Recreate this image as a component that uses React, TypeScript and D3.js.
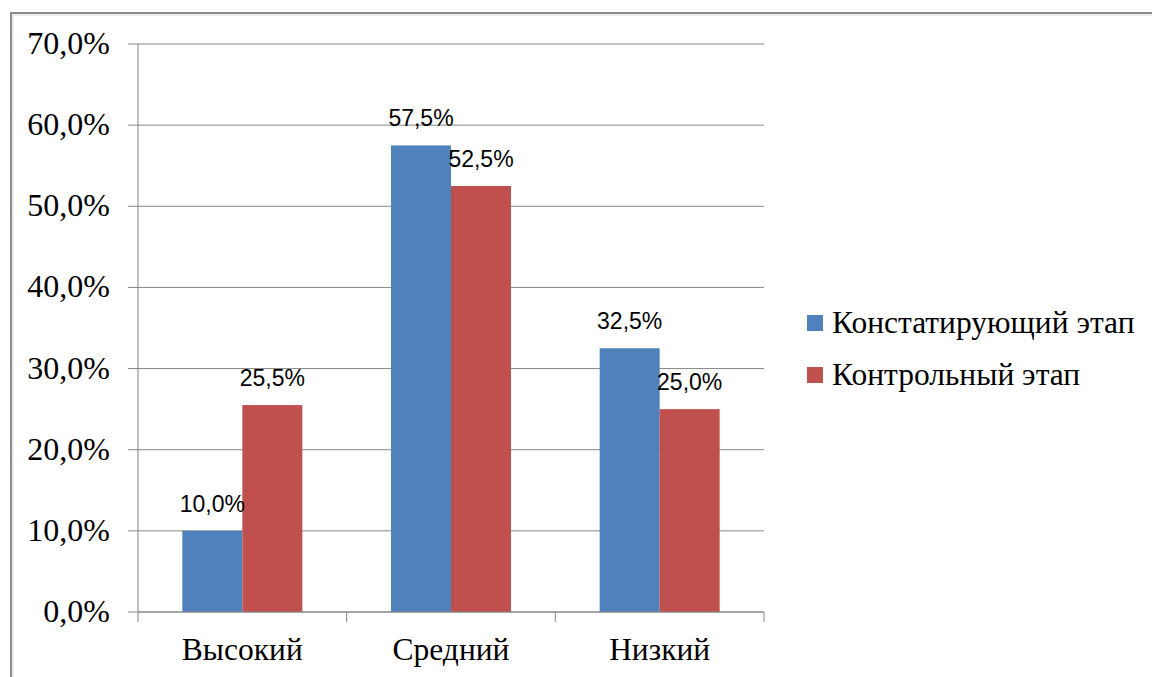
import React from 'react';
import * as d3 from 'd3';

// chart data
const categories = ['Высокий', 'Средний', 'Низкий'];
const seriesNames = ['Констатирующий этап', 'Контрольный этап'];
const stageOne = [10.0, 57.5, 32.5];
const stageTwo = [25.5, 52.5, 25.0];
const yTicks = [0, 10, 20, 30, 40, 50, 60, 70];

const colors = ['#4F81BD', '#C0504D'];
const serif = '"Liberation Serif", "Times New Roman", serif';
const sans = '"Liberation Sans", Arial, sans-serif';

const fmt = (v: number) => v.toFixed(1).replace('.', ',') + '%';

const App = () => {
  const W = 1152;
  const H = 677;
  const plot = { left: 138, right: 764, top: 44, bottom: 612 };

  const y = d3.scaleLinear().domain([0, 70]).range([plot.bottom, plot.top]);
  const x0 = d3.scaleBand<string>()
    .domain(categories)
    .range([plot.left, plot.right])
    .paddingInner(0.425)
    .paddingOuter(0.2125);
  const x1 = d3.scaleBand<number>()
    .domain([0, 1])
    .range([0, x0.bandwidth()]);

  const series = [stageOne, stageTwo];
  const step = (plot.right - plot.left) / categories.length;
  const boundaries = d3.range(categories.length + 1).map(i => plot.left + i * step);

  return (
    <svg width={W} height={H} style={{ position: 'absolute', left: 0, top: 0, background: '#fff' }}>
      {/* outer frame */}
      <path d={`M11,${H} V13 H${W}`} fill="none" stroke="#8c8c8c" strokeWidth={2} />
      <path d={`M13,${H} V15 H${W}`} fill="none" stroke="#d9d9d9" strokeWidth={1} />

      {/* gridlines + y ticks */}
      {yTicks.map(t => (
        <g key={t}>
          <line x1={plot.left - 10} x2={plot.right} y1={y(t)} y2={y(t)} stroke="#868686" strokeWidth={1} />
          <text x={110} y={y(t) + 10} textAnchor="end" fontFamily={serif} fontSize={32} fill="#000">
            {fmt(t)}
          </text>
        </g>
      ))}

      {/* bars */}
      {categories.map((c, ci) => (
        <g key={c} transform={`translate(${x0(c)},0)`}>
          {series.map((s, si) => (
            <rect key={si} x={x1(si)} y={y(s[ci])} width={x1.bandwidth()}
              height={plot.bottom - y(s[ci])} fill={colors[si]} />
          ))}
        </g>
      ))}

      {/* data labels */}
      {categories.map((c, ci) => (
        <g key={c + 'l'} transform={`translate(${x0(c)},0)`}>
          {series.map((s, si) => (
            <text key={si} x={(x1(si) ?? 0) + x1.bandwidth() / 2} y={y(s[ci]) - 19}
              textAnchor="middle" fontFamily={sans} fontSize={23} fill="#000">
              {fmt(s[ci])}
            </text>
          ))}
        </g>
      ))}

      {/* axes */}
      <line x1={plot.left} x2={plot.left} y1={plot.top} y2={plot.bottom} stroke="#868686" />
      <line x1={plot.left} x2={plot.right} y1={plot.bottom} y2={plot.bottom} stroke="#868686" />
      {boundaries.map((b, i) => (
        <line key={i} x1={b} x2={b} y1={plot.bottom} y2={plot.bottom + 10} stroke="#868686" />
      ))}
      {categories.map(c => (
        <text key={c} x={(x0(c) ?? 0) + x0.bandwidth() / 2} y={660} textAnchor="middle"
          fontFamily={serif} fontSize={31.5} fill="#000">
          {c}
        </text>
      ))}

      {/* legend */}
      {seriesNames.map((n, i) => (
        <g key={n} transform={`translate(807,${315 + i * 52})`}>
          <rect width={16} height={16} fill={colors[i]} />
          <text x={25} y={18} fontFamily={serif} fontSize={31.5} fill="#000">{n}</text>
        </g>
      ))}
    </svg>
  );
};

export default App;
